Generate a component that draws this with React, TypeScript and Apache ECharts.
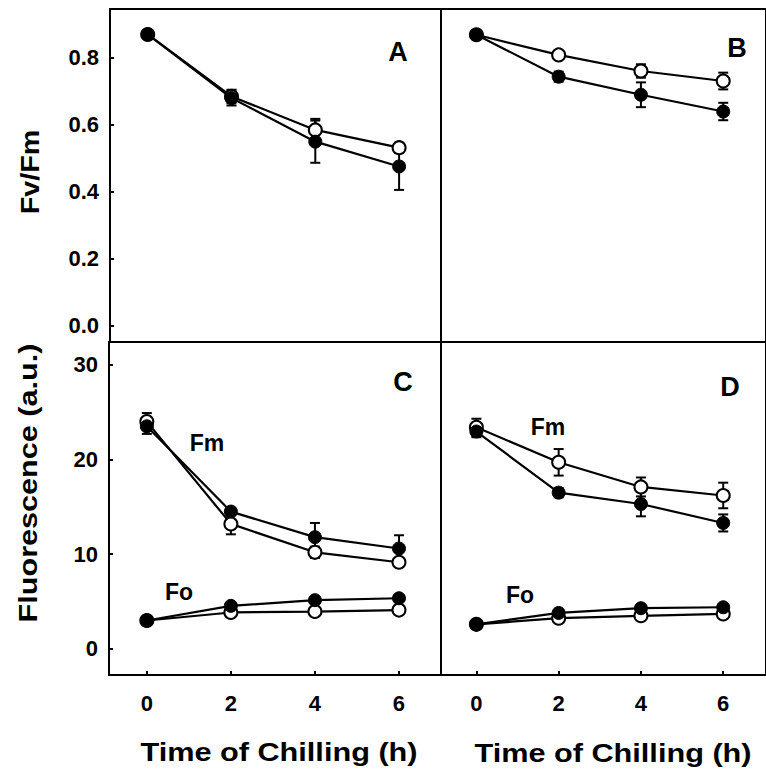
import React, { useEffect, useRef } from "react";
import * as echarts from "echarts";

// Time of chilling (h)
const hours = [0, 2, 4, 6];

// Panel A: Fv/Fm
const fvfmA_filled = [0.87, 0.68, 0.55, 0.476];
const fvfmA_filledErr = [0.005, 0.022, 0.063, 0.07];
const fvfmA_open = [0.87, 0.685, 0.585, 0.532];
const fvfmA_openErr = [0.005, 0.02, 0.033, 0.015];

// Panel B: Fv/Fm
const fvfmB_filled = [0.869, 0.744, 0.69, 0.64];
const fvfmB_filledErr = [0.005, 0.015, 0.037, 0.026];
const fvfmB_open = [0.869, 0.809, 0.761, 0.731];
const fvfmB_openErr = [0.005, 0.008, 0.02, 0.025];

// Panel C: Fm / Fo
const fmC_filled = [23.5, 14.5, 11.8, 10.6];
const fmC_filledErr = [0.8, 0.4, 1.5, 1.4];
const fmC_open = [24.0, 13.2, 10.2, 9.15];
const fmC_openErr = [0.9, 1.1, 0.6, 0.4];
const foC_filled = [3.0, 4.55, 5.15, 5.35];
const foC_filledErr = [0.2, 0.3, 0.3, 0.3];
const foC_open = [3.0, 3.85, 3.95, 4.1];
const foC_openErr = [0.2, 0.2, 0.2, 0.2];

// Panel D: Fm / Fo
const fmD_filled = [22.95, 16.5, 15.3, 13.3];
const fmD_filledErr = [0.6, 0.5, 1.3, 0.9];
const fmD_open = [23.4, 19.7, 17.1, 16.2];
const fmD_openErr = [0.9, 1.4, 1.0, 1.35];
const foD_filled = [2.6, 3.8, 4.3, 4.4];
const foD_filledErr = [0.2, 0.2, 0.2, 0.2];
const foD_open = [2.6, 3.25, 3.5, 3.7];
const foD_openErr = [0.2, 0.2, 0.2, 0.2];

// Tick values
const xTicks = [0, 2, 4, 6];
const fvfmTicks = [0, 0.2, 0.4, 0.6, 0.8];
const fluorTicks = [0, 10, 20, 30];

const FONT = "Liberation Sans, Arial, Helvetica, sans-serif";
const TICK_FONT = 22;

function pairs(vals: number[]) {
  return hours.map((h, i) => [h, vals[i]]);
}
function triples(vals: number[], errs: number[]) {
  return hours.map((h, i) => [h, vals[i], errs[i]]);
}

function lineSeries(idx: number, vals: number[], filled: boolean) {
  return {
    type: "line",
    xAxisIndex: idx,
    yAxisIndex: idx,
    data: pairs(vals),
    symbol: "circle",
    symbolSize: 13,
    z: filled ? 4 : 3,
    lineStyle: { color: "#000", width: 2.2 },
    itemStyle: filled
      ? { color: "#000", borderColor: "#000", borderWidth: 1 }
      : { color: "#fff", borderColor: "#000", borderWidth: 2 },
    emphasis: { disabled: true },
  };
}

function errSeries(idx: number, vals: number[], errs: number[]) {
  return {
    type: "custom",
    xAxisIndex: idx,
    yAxisIndex: idx,
    z: 2,
    data: triples(vals, errs),
    encode: { x: 0, y: 1 },
    renderItem: (params: any, api: any) => {
      const x = api.value(0);
      const y = api.value(1);
      const e = api.value(2);
      const top = api.coord([x, y + e]);
      const bot = api.coord([x, y - e]);
      const cw = 5;
      const st = { stroke: "#000", lineWidth: 2 };
      return {
        type: "group",
        children: [
          { type: "line", shape: { x1: top[0], y1: top[1], x2: bot[0], y2: bot[1] }, style: st },
          { type: "line", shape: { x1: top[0] - cw, y1: top[1], x2: top[0] + cw, y2: top[1] }, style: st },
          { type: "line", shape: { x1: bot[0] - cw, y1: bot[1], x2: bot[0] + cw, y2: bot[1] }, style: st },
        ],
      };
    },
  };
}

function xAxis(idx: number, min: number, max: number, labels: boolean) {
  return {
    type: "value",
    gridIndex: idx,
    min,
    max,
    splitLine: { show: false },
    axisLine: { show: true, onZero: false, lineStyle: { color: "#000", width: 2 } },
    axisTick: {
      show: labels,
      inside: true,
      length: 4,
      customValues: xTicks,
      lineStyle: { color: "#000", width: 2 },
    },
    axisLabel: {
      show: labels,
      customValues: xTicks,
      color: "#000",
      fontSize: TICK_FONT,
      fontWeight: "bold",
      fontFamily: FONT,
      margin: 17,
    },
  };
}

function yAxis(idx: number, min: number, max: number, ticks: number[], labels: boolean, digits: number) {
  return {
    type: "value",
    gridIndex: idx,
    min,
    max,
    splitLine: { show: false },
    axisLine: { show: true, onZero: false, lineStyle: { color: "#000", width: 2 } },
    axisTick: {
      show: labels,
      inside: true,
      length: 4,
      customValues: ticks,
      lineStyle: { color: "#000", width: 2 },
    },
    axisLabel: {
      show: labels,
      customValues: ticks,
      color: "#000",
      fontSize: TICK_FONT,
      fontWeight: "bold",
      fontFamily: FONT,
      margin: 11,
      formatter: (v: number) => v.toFixed(digits),
    },
  };
}

function txt(text: string, x: number, y: number, size: number, extra: any = {}) {
  return {
    type: "text",
    x,
    y,
    z: 10,
    ...extra,
    style: {
      text,
      fill: "#000",
      fontSize: size,
      fontWeight: "bold",
      fontFamily: FONT,
      textAlign: "center",
      textVerticalAlign: "middle",
      align: "center",
      verticalAlign: "middle",
    },
  };
}

export default function App() {
  const ref = useRef<HTMLDivElement>(null);
  useEffect(() => {
    if (!ref.current) return;
    const chart = echarts.init(ref.current, null, { renderer: "svg" });
    const gridBase = { show: true, borderColor: "#000", borderWidth: 2, backgroundColor: "transparent" };
    const option: any = {
      animation: false,
      backgroundColor: "#fff",
      grid: [
        { ...gridBase, left: 110, top: 9, width: 331, height: 333 },
        { ...gridBase, left: 441, top: 9, width: 331, height: 333 },
        { ...gridBase, left: 109, top: 342, width: 332, height: 333 },
        { ...gridBase, left: 441, top: 342, width: 331, height: 333 },
      ],
      xAxis: [
        xAxis(0, -0.9, 7, false),
        xAxis(1, -0.86, 7.04, false),
        xAxis(2, -0.9, 7, true),
        xAxis(3, -0.86, 7.04, true),
      ],
      yAxis: [
        yAxis(0, -0.048, 0.946, fvfmTicks, true, 1),
        yAxis(1, -0.048, 0.946, fvfmTicks, false, 1),
        yAxis(2, -2.75, 32.4, fluorTicks, true, 0),
        yAxis(3, -2.75, 32.4, fluorTicks, false, 0),
      ],
      series: [
        errSeries(0, fvfmA_filled, fvfmA_filledErr),
        errSeries(0, fvfmA_open, fvfmA_openErr),
        lineSeries(0, fvfmA_open, false),
        lineSeries(0, fvfmA_filled, true),

        errSeries(1, fvfmB_filled, fvfmB_filledErr),
        errSeries(1, fvfmB_open, fvfmB_openErr),
        lineSeries(1, fvfmB_open, false),
        lineSeries(1, fvfmB_filled, true),

        errSeries(2, fmC_filled, fmC_filledErr),
        errSeries(2, fmC_open, fmC_openErr),
        errSeries(2, foC_filled, foC_filledErr),
        errSeries(2, foC_open, foC_openErr),
        lineSeries(2, fmC_open, false),
        lineSeries(2, fmC_filled, true),
        lineSeries(2, foC_open, false),
        lineSeries(2, foC_filled, true),

        errSeries(3, fmD_filled, fmD_filledErr),
        errSeries(3, fmD_open, fmD_openErr),
        errSeries(3, foD_filled, foD_filledErr),
        errSeries(3, foD_open, foD_openErr),
        lineSeries(3, fmD_open, false),
        lineSeries(3, fmD_filled, true),
        lineSeries(3, foD_open, false),
        lineSeries(3, foD_filled, true),
      ],
      graphic: [
        txt("Fv/Fm", 31, 172, 25, { rotation: Math.PI / 2, scaleX: 1.15 }),
        txt("Fluorescence (a.u.)", 28, 483, 25.5, { rotation: Math.PI / 2, scaleX: 1.2 }),
        txt("Time of Chilling (h)", 279, 752, 26, { scaleX: 1.18 }),
        txt("Time of Chilling (h)", 613, 753, 26, { scaleX: 1.18 }),
        txt("A", 398, 52, 27),
        txt("B", 737, 48, 27),
        txt("C", 403, 382, 27),
        txt("D", 730, 387, 27),
        txt("Fm", 207, 443, 23),
        txt("Fo", 179, 592, 23),
        txt("Fm", 548, 427, 23),
        txt("Fo", 520, 595, 23),
      ],
    };
    chart.setOption(option);
    return () => chart.dispose();
  }, []);
  return (
    <div
      ref={ref}
      style={{ position: "absolute", left: 0, top: 0, width: 766, height: 773, background: "#fff" }}
    />
  );
}
